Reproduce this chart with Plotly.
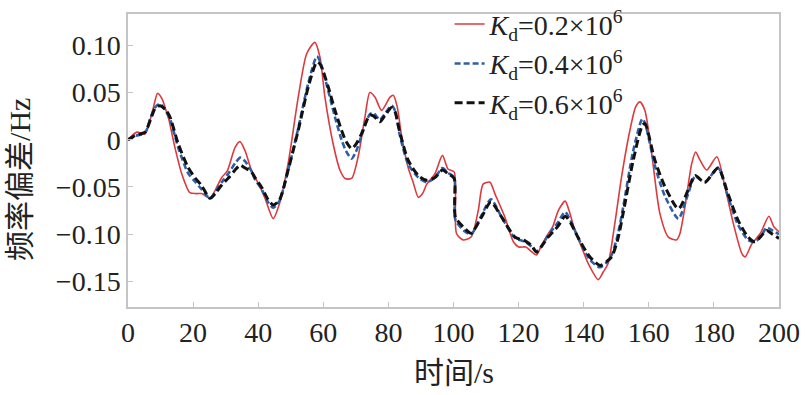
import plotly.graph_objects as go

# ---- data ----
t_red = [0, 2.7, 5.2, 7.5, 9.1, 10.5, 11.4, 12.5, 14.4, 16.5, 19, 21, 22.6, 25.2, 27, 28.8, 30.5, 32.9, 34.4, 36,
         37.9, 40, 42, 44.6, 46.5, 49.2, 52.3, 54.9, 57.4, 59, 60.5, 63, 65.1, 66.7, 68.7, 70.7, 72.8, 74.3, 75.9,
         77.9, 80.5, 81.5, 82.7, 84, 86.1, 87.6, 89.2, 90.5, 91.8, 94.3, 96.6, 98.3, 100.2, 100.9, 102.9, 105.4,
         107.6, 109.1, 111.2, 112.7, 115.8, 118.4, 120, 122.2, 123.5, 125.5, 127, 129.1, 130.5, 132.2, 134.3,
         135.5, 137.3, 139.5, 141.4, 144.5, 146, 147.5, 149.5, 151.6, 154.2, 156, 157.3, 158.8, 160.9, 163.4,
         166, 168.5, 169.5, 171.1, 173.2, 174.4, 175.5, 177.8, 180.9, 183.4, 186, 188.6, 189.6, 191.7, 194.3,
         196.9, 198.4, 200]
y_red = [0, 0.008, 0.006, 0.03, 0.049, 0.043, 0.034, 0.022, -0.008, -0.036, -0.056, -0.057, -0.057, -0.062,
         -0.052, -0.040, -0.033, -0.008, -0.002, -0.012, -0.032, -0.046, -0.061, -0.0835, -0.068, -0.025, 0.045,
         0.091, 0.103, 0.087, 0.045, -0.004, -0.032, -0.041, -0.041, -0.018, 0.024, 0.050, 0.045, 0.031, 0.045,
         0.047, 0.035, 0.005, -0.030, -0.045, -0.061, -0.057, -0.047, -0.036, -0.0166, -0.031, -0.034, -0.099,
         -0.106, -0.103, -0.075, -0.047, -0.045, -0.057, -0.082, -0.108, -0.1135, -0.1135, -0.117, -0.122,
         -0.112, -0.0995, -0.092, -0.075, -0.065, -0.075, -0.096, -0.115, -0.131, -0.148, -0.140, -0.131,
         -0.090, -0.040, 0.010, 0.035, 0.040, 0.031, -0.015, -0.078, -0.103, -0.106, -0.100, -0.071, -0.025,
         -0.013, -0.020, -0.032, -0.018, -0.050, -0.089, -0.1205, -0.124, -0.110, -0.099, -0.081, -0.092, -0.0975]

t_bk = [0, 2.2, 5.2, 7, 8.3, 9.8, 11.5, 12.9, 15.4, 18.4, 20.5, 22.5, 25.2, 27, 28.8, 31, 32.9, 34.5, 36, 37.9,
        39, 41, 43, 44.6, 46.5, 49.2, 52.3, 55.4, 58, 59, 61.5, 63.5, 65.6, 67, 68.7, 70, 71.7, 74.3, 75.5, 77.4,
        79, 81, 82, 83.5, 86.1, 89.2, 91.8, 94.3, 96.6, 98.3, 100.2, 100.6, 103.5, 105.4, 108.6, 111.5, 114.8,
        118.9, 122, 124, 125.5, 127, 129.1, 132, 134.3, 136, 138.2, 141.9, 145, 147, 148.6, 150.5, 152.1, 155.2,
        158, 158.8, 161.9, 165, 169.1, 172, 174.2, 177.2, 181.3, 184.3, 187.4, 190.5, 192.6, 194.5, 196.2, 198,
        200]
y_blue = [0, 0.004, 0.007, 0.024, 0.034, 0.038, 0.031, 0.022, -0.008, -0.035, -0.044, -0.052, -0.062, -0.054,
          -0.045, -0.035, -0.025, -0.019, -0.023, -0.033, -0.042, -0.052, -0.066, -0.072, -0.065, -0.032, 0.012,
          0.060, 0.088, 0.083, 0.052, 0.025, 0.000, -0.012, -0.020, -0.013, 0.004, 0.027, 0.028, 0.021, 0.028,
          0.036, 0.031, 0.005, -0.026, -0.040, -0.045, -0.040, -0.030, -0.035, -0.040, -0.085, -0.097, -0.100,
          -0.080, -0.063, -0.082, -0.104, -0.108, -0.113, -0.118, -0.113, -0.101, -0.088, -0.0765, -0.086,
          -0.103, -0.127, -0.135, -0.130, -0.122, -0.100, -0.072, -0.012, 0.022, 0.018, -0.028, -0.060, -0.0835,
          -0.058, -0.039, -0.045, -0.030, -0.060, -0.090, -0.106, -0.108, -0.102, -0.093, -0.096, -0.100]
y_black = [0, 0.0045, 0.008, 0.022, 0.033, 0.036, 0.032, 0.024, -0.004, -0.029, -0.040, -0.048, -0.062, -0.056,
           -0.048, -0.040, -0.032, -0.027, -0.030, -0.034, -0.040, -0.050, -0.063, -0.069, -0.064, -0.032, 0.010,
           0.056, 0.082, 0.080, 0.056, 0.032, 0.010, -0.002, -0.0095, -0.005, 0.006, 0.026, 0.025, 0.019, 0.026,
           0.034, 0.030, 0.008, -0.022, -0.038, -0.043, -0.040, -0.032, -0.036, -0.041, -0.082, -0.094, -0.099,
           -0.082, -0.066, -0.082, -0.103, -0.107, -0.112, -0.119, -0.113, -0.103, -0.092, -0.081, -0.088,
           -0.103, -0.124, -0.133, -0.129, -0.124, -0.105, -0.078, -0.022, 0.015, 0.017, -0.022, -0.050, -0.073,
           -0.054, -0.038, -0.045, -0.030, -0.057, -0.085, -0.103, -0.108, -0.102, -0.096, -0.100, -0.1045]

series_names = ["<i>K</i><sub>d</sub>=0.2×10<sup>6</sup>",
                "<i>K</i><sub>d</sub>=0.4×10<sup>6</sup>",
                "<i>K</i><sub>d</sub>=0.6×10<sup>6</sup>"]
x_ticks = [0, 20, 40, 60, 80, 100, 120, 140, 160, 180, 200]
y_ticks = [0.10, 0.05, 0, -0.05, -0.10, -0.15]
y_tick_text = ["0.10", "0.05", "0", "−0.05", "−0.10", "−0.15"]
x_title = "时间/s"
y_title = "频率偏差/Hz"

FONT = "Liberation Serif, Noto Sans CJK SC"
TXT = "#222222"

fig = go.Figure()
fig.add_trace(go.Scatter(x=t_red, y=y_red, mode="lines", name=series_names[0],
                         line=dict(color="#dc3a3e", width=1.6, shape="spline", smoothing=0.7)))
fig.add_trace(go.Scatter(x=t_bk, y=y_blue, mode="lines", name=series_names[1],
                         line=dict(color="#2e5fa6", width=2.6, dash="6px,3px", shape="spline", smoothing=0.7)))
fig.add_trace(go.Scatter(x=t_bk, y=y_black, mode="lines", name=series_names[2],
                         line=dict(color="#111111", width=3, dash="8px,4px", shape="spline", smoothing=0.7)))

axis_common = dict(showline=True, linecolor="#c4c4c4", linewidth=1.5, mirror=True,
                   ticks="inside", ticklen=5, tickcolor="#c4c4c4", tickwidth=1,
                   showgrid=False, zeroline=False, automargin=False,
                   tickfont=dict(family=FONT, size=28, color=TXT))

fig.update_layout(
    width=807, height=395,
    margin=dict(l=128, r=28, t=14, b=88, autoexpand=False),
    paper_bgcolor="white", plot_bgcolor="white",
    font=dict(family=FONT, size=28, color=TXT),
    xaxis=dict(range=[0, 200], tickvals=x_ticks, **axis_common),
    yaxis=dict(range=[-0.177, 0.133], tickvals=y_ticks, ticktext=y_tick_text, **axis_common),
    showlegend=True,
    legend=dict(x=0.494, y=1.05, xanchor="left", yanchor="top", bgcolor="rgba(0,0,0,0)",
                font=dict(family=FONT, size=28, color=TXT), tracegroupgap=0,
                itemwidth=30),
    annotations=[
        dict(text=x_title, xref="paper", yref="paper", x=0.5, y=-0.222, xanchor="center", yanchor="middle",
             showarrow=False, font=dict(family=FONT, size=30, color=TXT)),
        dict(text=y_title, xref="paper", yref="paper", x=-0.166, y=0.437, xanchor="center", yanchor="middle",
             textangle=-90, showarrow=False, font=dict(family=FONT, size=30, color=TXT)),
    ],
)

fig.write_html("out.html", config={"displayModeBar": False},
               post_script="document.body.style.margin='0';")
